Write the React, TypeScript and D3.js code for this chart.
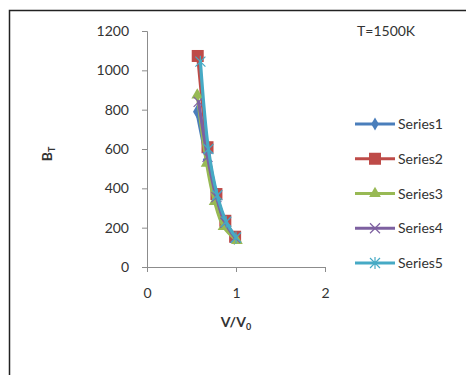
import React, { useEffect, useRef } from "react"
import * as d3 from "d3"

const seriesNames = ["Series1", "Series2", "Series3", "Series4", "Series5"]
const seriesColors = ["#4a7ebb", "#be4b48", "#98b954", "#7d60a0", "#46aac5"]
const series1 = [
  [0.56, 790], [0.67, 545], [0.77, 350], [0.87, 220], [0.98, 145],
]
const series2 = [
  [0.57, 1073], [0.68, 609], [0.78, 371], [0.88, 235], [0.99, 154],
]
const series3 = [
  [0.565, 874], [0.67, 527], [0.76, 332], [0.86, 205], [1.01, 134],
]
const series4 = [
  [0.58, 840], [0.68, 560], [0.78, 355], [0.88, 225], [0.99, 148],
]
const series5 = [
  [0.6, 1044], [0.69, 600], [0.79, 365], [0.89, 230], [1.0, 150],
]
const xTicks = [0, 1, 2]
const yTicks = [0, 200, 400, 600, 800, 1000, 1200]

const FONT = "Lato, 'Liberation Sans', sans-serif"

export default function App() {
  const svgRef = useRef<SVGSVGElement>(null)

  useEffect(() => {
    const svg = d3.select(svgRef.current)
    svg.selectAll("*").remove()

    const allSeries = [series1, series2, series3, series4, series5]
    const x = d3.scaleLinear().domain([0, 2]).range([147, 325])
    const y = d3.scaleLinear().domain([0, 1200]).range([267, 31])

    // outer frame (only top and left edges are visible)
    svg.append("rect")
      .attr("x", 9.5).attr("y", 10.5)
      .attr("width", 500).attr("height", 400)
      .attr("fill", "white").attr("stroke", "#222").attr("stroke-width", 1.5)

    // y axis
    const yAxis = svg.append("g")
      .attr("transform", `translate(${x(0)},0)`)
      .call(d3.axisLeft(y).tickValues(yTicks).tickFormat(d3.format("d")).tickSize(5).tickPadding(13))
    yAxis.select(".domain").attr("stroke", "#8c8c8c")
    yAxis.selectAll(".tick line").attr("stroke", "#8c8c8c")
    yAxis.selectAll("text")
      .attr("fill", "#333").attr("font-size", 14).attr("font-family", FONT)

    // x axis
    const xAxis = svg.append("g")
      .attr("transform", `translate(0,${y(0)})`)
      .call(d3.axisBottom(x).tickValues(xTicks).tickFormat(d3.format("d")).tickSize(5).tickPadding(16))
    xAxis.select(".domain").attr("stroke", "#8c8c8c")
    xAxis.selectAll(".tick line").attr("stroke", "#8c8c8c")
    xAxis.selectAll("text")
      .attr("fill", "#333").attr("font-size", 14).attr("font-family", FONT)

    // axis titles
    const xt = svg.append("text")
      .attr("x", 236).attr("y", 327)
      .attr("text-anchor", "middle")
      .attr("font-family", FONT).attr("font-size", 14).attr("font-weight", "bold")
      .attr("fill", "#333")
    xt.append("tspan").text("V/V")
    xt.append("tspan").attr("font-size", 9).attr("dy", 3).text("0")

    const yt = svg.append("text")
      .attr("transform", "translate(52,154) rotate(-90)")
      .attr("text-anchor", "middle")
      .attr("font-family", FONT).attr("font-size", 14).attr("font-weight", "bold")
      .attr("fill", "#333")
    yt.append("tspan").text("B")
    yt.append("tspan").attr("font-size", 9).attr("dy", 3).text("T")

    svg.append("text")
      .attr("x", 357).attr("y", 36)
      .attr("font-family", FONT).attr("font-size", 14).attr("fill", "#333")
      .text("T=1500K")

    const line = d3.line<number[]>()
      .x((d) => x(d[0]))
      .y((d) => y(d[1]))
      .curve(d3.curveCatmullRom.alpha(0.5))

    const marker = (g: d3.Selection<SVGGElement, unknown, null, undefined>, i: number, cx: number, cy: number) => {
      const c = seriesColors[i]
      if (i === 0) {
        g.append("path").attr("d", d3.symbol(d3.symbolDiamond, 50)()!)
          .attr("transform", `translate(${cx},${cy})`).attr("fill", c)
      } else if (i === 1) {
        g.append("rect").attr("x", cx - 6).attr("y", cy - 6).attr("width", 12).attr("height", 12).attr("fill", c)
      } else if (i === 2) {
        g.append("path").attr("d", d3.symbol(d3.symbolTriangle, 60)()!)
          .attr("transform", `translate(${cx},${cy})`).attr("fill", c)
      } else if (i === 3) {
        g.append("path").attr("d", `M${cx - 5},${cy - 5}L${cx + 5},${cy + 5}M${cx - 5},${cy + 5}L${cx + 5},${cy - 5}`)
          .attr("stroke", c).attr("stroke-width", 1.2)
      } else {
        g.append("path").attr("d", `M${cx - 5},${cy - 5}L${cx + 5},${cy + 5}M${cx - 5},${cy + 5}L${cx + 5},${cy - 5}M${cx},${cy - 6}L${cx},${cy + 6}`)
          .attr("stroke", c).attr("stroke-width", 1.2)
      }
    }

    allSeries.forEach((data, i) => {
      const g = svg.append("g")
      g.append("path").datum(data).attr("d", line)
        .attr("fill", "none").attr("stroke", seriesColors[i]).attr("stroke-width", 3.2)
        .attr("stroke-linecap", "round")
      data.forEach((d) => marker(g as any, i, x(d[0]), y(d[1])))
    })

    // legend
    const legendY = d3.scalePoint().domain(seriesNames).range([124, 263])
    seriesNames.forEach((name, i) => {
      const ly = legendY(name)!
      const g = svg.append("g")
      g.append("line").attr("x1", 355).attr("x2", 395).attr("y1", ly).attr("y2", ly)
        .attr("stroke", seriesColors[i]).attr("stroke-width", 3.2)
      marker(g as any, i, 375, ly)
      g.append("text").attr("x", 398).attr("y", ly + 5)
        .attr("font-family", FONT).attr("font-size", 14).attr("fill", "#333")
        .text(name)
    })
  }, [])

  return (
    <svg ref={svgRef} width={466} height={375}
      style={{ position: "absolute", left: 0, top: 0, display: "block" }} />
  )
}
